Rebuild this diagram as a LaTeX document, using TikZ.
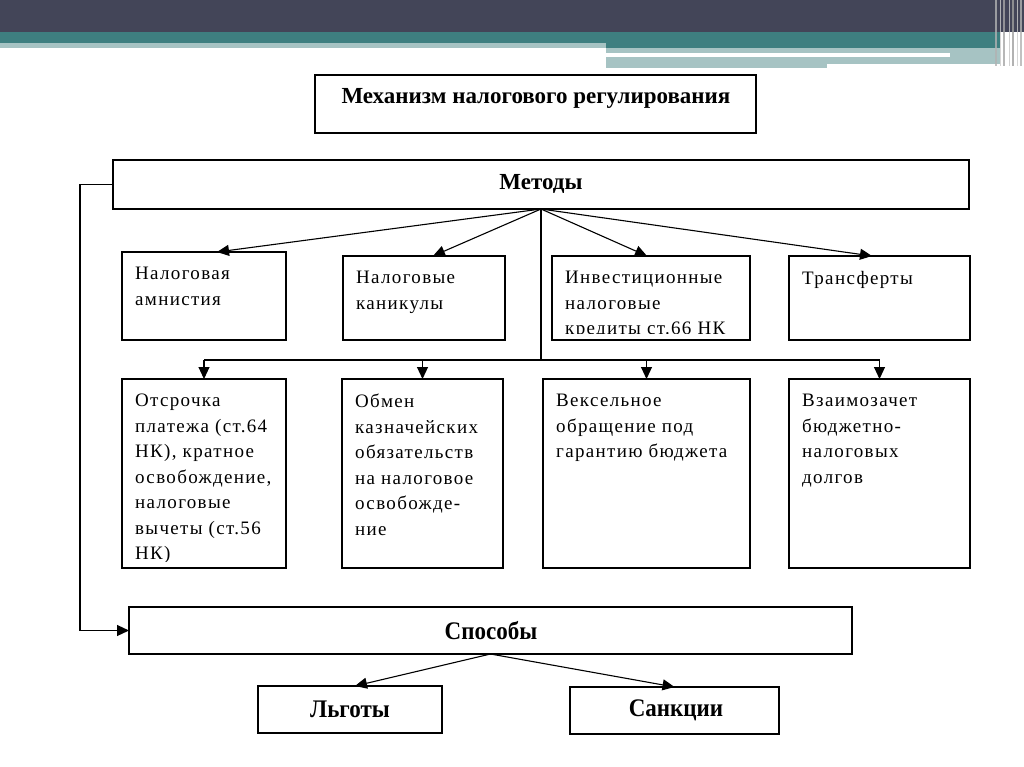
\documentclass[tikz,border=0pt]{standalone}
\usepackage{fontspec}
\setmainfont{Liberation Serif}
\newfontfamily\boxfont[LetterSpace=7]{Liberation Serif}
\usetikzlibrary{arrows.meta}
\definecolor{darkband}{HTML}{434558}
\definecolor{tealband}{HTML}{3E7F80}
\definecolor{lightteal}{HTML}{A6C3C3}
\newcommand{\boxtext}[2]{%
  \begin{scope}
    \clip ([yshift=-1pt]#1.north west) rectangle ([yshift=7pt]#1.south east);
    \node[txt] (#1t) at ([xshift=13pt,yshift=-15pt]#1.north west) {#2};
  \end{scope}}
\begin{document}
\begin{tikzpicture}[x=1pt,y=-1pt,
  box/.style={draw, line width=1.3pt, anchor=north west, inner sep=0pt, outer sep=0pt},
  txt/.style={anchor=north west, inner sep=0pt, align=left,
    font=\boxfont\fontsize{19}{25.5}\selectfont},
  head/.style={anchor=center, font=\bfseries\fontsize{23}{25}\selectfont},
  arr/.style={line width=1.1pt, -{Triangle[length=12pt,width=11pt]}},
  ln/.style={line width=1.1pt}]
\useasboundingbox (0,0) rectangle (1024,767);
\fill[white] (0,0) rectangle (1024,767);
% top decoration
\fill[darkband] (0,0) rectangle (1024,32);
\fill[tealband] (0,32) rectangle (1000,48);
\fill[lightteal] (0,43) rectangle (606,48);
\fill[lightteal] (606,48) rectangle (1000,64);
\fill[lightteal] (606,64) rectangle (827,68);
\fill[white] (606,53) rectangle (950,57);
\foreach \xx/\cc/\ww in {996/gray!60/1.5,1000/gray!40/1,1004/gray!70/1.5,1009/gray!45/1,1013/gray!75/1.5,1017/gray!40/1,1021/gray!60/1.5}
  \draw[\cc, line width=\ww pt, opacity=0.8] (\xx,0) -- (\xx,66);
% title
\node[box, minimum width=441, minimum height=58] (title) at (315,75) {};
\node[head] (titlet) at (536,98) {Механизм налогового регулирования};
% methods
\node[box, minimum width=856, minimum height=49] (m) at (113,160) {};
\node[head] (mt) at (541,184) {Методы};
% row 1
\node[box, minimum width=164, minimum height=88] (b1) at (122,252) {};
\node[box, minimum width=162, minimum height=84] (b2) at (343,256) {};
\node[box, minimum width=198, minimum height=84] (b3) at (552,256) {};
\node[box, minimum width=181, minimum height=84] (b4) at (789,256) {};
\boxtext{b1}{Налоговая\\амнистия}
\boxtext{b2}{Налоговые\\каникулы}
\boxtext{b3}{Инвестиционные\\налоговые\\кредиты ст.66 НК}
\boxtext{b4}{Трансферты}
% row 2
\node[box, minimum width=164, minimum height=189] (c1) at (122,379) {};
\node[box, minimum width=161, minimum height=189] (c2) at (342,379) {};
\node[box, minimum width=207, minimum height=189] (c3) at (543,379) {};
\node[box, minimum width=181, minimum height=189] (c4) at (789,379) {};
\boxtext{c1}{Отсрочка\\платежа (ст.64\\НК), кратное\\освобождение,\\налоговые\\вычеты (ст.56\\НК)}
\boxtext{c2}{Обмен\\казначейских\\обязательств\\на налоговое\\освобожде-\\ние}
\boxtext{c3}{Вексельное\\обращение под\\гарантию бюджета}
\boxtext{c4}{Взаимозачет\\бюджетно-\\налоговых\\долгов}
% ways
\node[box, minimum width=723, minimum height=47] (s) at (129,607) {};
\node[head] (st) at (491,631) {\scalebox{1}[1.1]{Способы}};
\node[box, minimum width=184, minimum height=47] (lg) at (258,686) {};
\node[head] (lgt) at (350,709) {\scalebox{1}[1.1]{Льготы}};
\node[box, minimum width=209, minimum height=47] (sk) at (570,687) {};
\node[head] (skt) at (676,710) {\scalebox{1}[1.1]{Санкции}};
% connectors from methods
\draw[arr] (m.south) -- ([xshift=95pt]b1.north west);
\draw[arr] (m.south) -- ([xshift=90pt]b2.north west);
\draw[arr] (m.south) -- ([xshift=95pt]b3.north west);
\draw[arr] (m.south) -- ([xshift=83pt]b4.north west);
\coordinate (bus) at (541,360);
\draw[ln] (m.south) -- (bus);
\draw[ln] (c1.north |- bus) -- (c4.north |- bus);
\draw[arr] (c1.north |- bus) -- (c1.north);
\draw[arr] (c2.north |- bus) -- (c2.north);
\draw[arr] (c3.north |- bus) -- (c3.north);
\draw[arr] (c4.north |- bus) -- (c4.north);
% left loop
\coordinate (l1) at (80,184.5);
\draw[arr] (m.west) -- (l1) |- (s.west);
% ways arrows
\draw[arr] (s.south) -- ([xshift=5pt]lg.north);
\draw[arr] (s.south) -- (sk.north);
\end{tikzpicture}
\end{document}
